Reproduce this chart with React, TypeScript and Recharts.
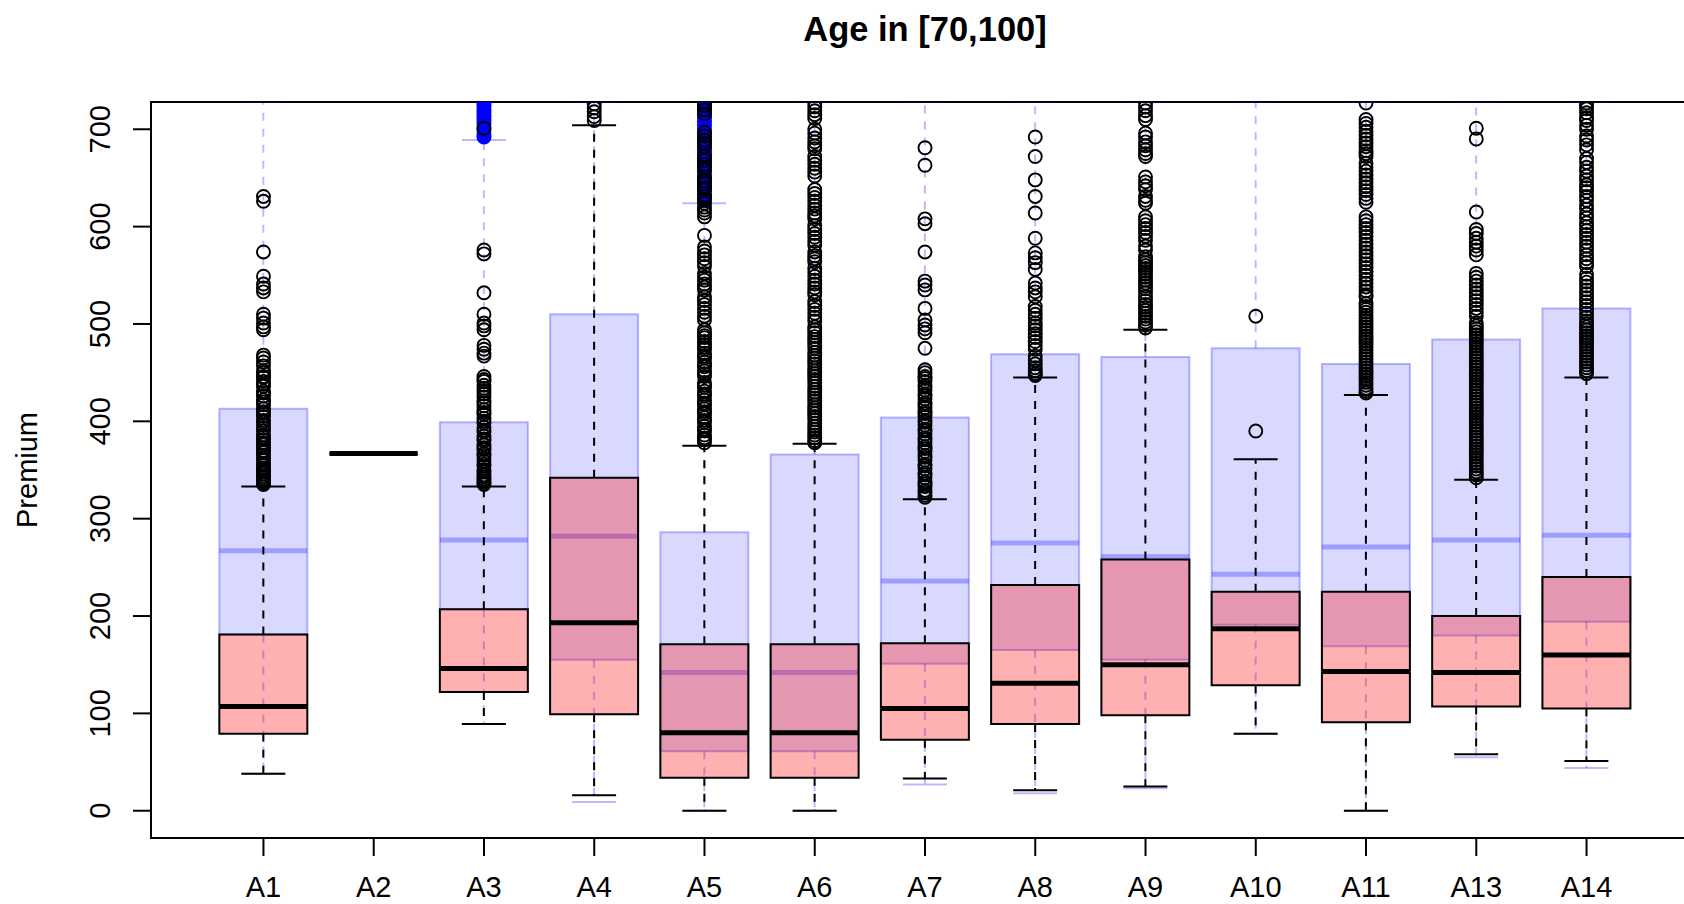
import { ComposedChart, Bar, Scatter, XAxis, YAxis, ReferenceArea } from 'recharts';

const FONT = '"Liberation Sans", Arial, Helvetica, sans-serif';

const categories = ['A1', 'A2', 'A3', 'A4', 'A5', 'A6', 'A7', 'A8', 'A9', 'A10', 'A11', 'A13', 'A14'];

// five-number summaries: [lower whisker, Q1, median, Q3, upper whisker]
const redStats = [
  [38, 79, 107, 181, 333],
  [367, 367, 367, 367, 367],
  [89, 122, 146, 207, 333],
  [16, 99, 193, 342, 704],
  [0, 34, 80, 171, 375],
  [0, 34, 80, 171, 377],
  [33, 73, 105, 172, 320],
  [21, 89, 131, 232, 445],
  [25, 98, 150, 258, 494],
  [79, 129, 187, 225, 361],
  [0, 91, 143, 225, 427],
  [58, 107, 142, 200, 340],
  [51, 105, 160, 240, 445],
];

const blueStats = [
  [38, 181, 267, 413, 745],
  null,
  [89, 207, 278, 399, 689],
  [9, 155, 282, 510, 745],
  [0, 61, 142, 286, 624],
  [0, 61, 142, 366, 745],
  [27, 151, 236, 404, 745],
  [18, 165, 275, 469, 745],
  [23, 155, 261, 466, 745],
  [79, 191, 243, 475, 745],
  [0, 169, 271, 459, 745],
  [55, 180, 278, 484, 745],
  [44, 194, 283, 516, 745],
];

const redOutliers = [
  [631, 626, 574, 549, 541, 537, 533, 510, 506, 501, 497, 494, 468, 465, 461, 457, 452, 450, 446, 445, 441, 438,
    436, 431, 429, 426, 422, 420, 417, 413, 410, 408, 405, 401, 399, 396, 393, 390, 386, 384, 381, 378, 376, 373,
    370, 368, 365, 362, 360, 357, 355, 352, 350, 348, 346, 344, 342, 340, 339, 337, 336, 335],
  [],
  [701, 576, 572, 532, 510, 501, 498, 494, 478, 474, 470, 467, 446, 443, 441, 437, 434, 431, 428, 425, 421, 419,
    416, 412, 409, 407, 403, 400, 398, 394, 391, 389, 385, 382, 380, 376, 373, 371, 367, 365, 362, 359, 356, 354,
    350, 348, 345, 343, 341, 339, 337, 335],
  [726, 722, 718, 713, 709],
  [727, 724, 720, 716, 697, 693, 689, 686, 682, 672, 668, 664, 661, 658, 651, 647, 644, 640, 638, 631, 628, 624,
    620, 617, 614, 610, 591, 579, 575, 571, 567, 563, 559, 552, 548, 545, 541, 538, 535, 528, 524, 520, 516, 512,
    508, 504, 494, 491, 488, 486, 482, 479, 476, 474, 470, 467, 465, 461, 458, 456, 452, 449, 446, 440, 437, 435,
    431, 428, 426, 422, 419, 417, 413, 410, 408, 404, 401, 399, 395, 392, 390, 386, 383, 381, 378],
  [727, 723, 719, 715, 711, 700, 696, 691, 687, 683, 680, 672, 668, 664, 660, 656, 652, 638, 634, 630, 626, 622,
    618, 614, 611, 608, 601, 597, 593, 589, 585, 581, 574, 570, 567, 564, 557, 553, 549, 545, 541, 537, 533, 530,
    523, 519, 515, 511, 507, 503, 497, 494, 491, 487, 484, 481, 478, 475, 471, 468, 465, 462, 459, 455, 452, 449,
    446, 443, 440, 436, 433, 430, 427, 424, 421, 417, 414, 411, 408, 405, 402, 398, 395, 392, 389, 386, 383, 380, 378],
  [681, 663, 608, 603, 574, 544, 540, 535, 516, 504, 499, 495, 491, 475, 453, 450, 446, 444, 441, 437, 435, 432,
    428, 426, 423, 419, 417, 414, 410, 408, 405, 401, 399, 396, 392, 390, 387, 383, 381, 378, 374, 372, 369, 365,
    363, 360, 356, 354, 351, 347, 345, 342, 338, 336, 333, 329, 327, 324, 322],
  [692, 672, 648, 631, 614, 588, 573, 568, 563, 556, 542, 537, 533, 528, 518, 514, 510, 506, 501, 498, 494, 490,
    486, 482, 478, 474, 467, 463, 459, 455, 452, 449, 447],
  [727, 723, 719, 714, 710, 696, 692, 687, 683, 679, 675, 672, 651, 646, 642, 638, 631, 627, 624, 610, 606, 602,
    598, 594, 590, 586, 580, 576, 569, 566, 563, 560, 557, 554, 551, 548, 545, 542, 539, 536, 532, 528, 524, 520,
    517, 514, 511, 508, 505, 502, 499, 496],
  [508, 390],
  [727, 710, 706, 702, 698, 694, 690, 686, 682, 678, 675, 672, 665, 661, 657, 653, 649, 645, 641, 637, 633, 629,
    625, 610, 606, 602, 598, 594, 590, 586, 582, 578, 574, 570, 566, 562, 558, 554, 550, 546, 542, 538, 534, 530,
    528, 521, 518, 515, 512, 509, 506, 503, 500, 497, 494, 491, 488, 485, 482, 479, 476, 473, 470, 467, 464, 461,
    458, 455, 452, 449, 446, 443, 440, 437, 434, 431, 429],
  [701, 690, 615, 597, 593, 588, 584, 580, 576, 571, 552, 548, 544, 540, 536, 532, 528, 524, 520, 516, 512, 508,
    501, 498, 495, 492, 489, 486, 483, 480, 477, 474, 471, 468, 465, 462, 459, 456, 453, 450, 447, 444, 441, 438,
    435, 432, 429, 426, 423, 420, 417, 414, 411, 408, 405, 402, 399, 396, 393, 390, 387, 384, 381, 378, 375, 372,
    369, 366, 363, 360, 357, 354, 351, 348, 345, 342],
  [727, 724, 721, 717, 712, 709, 704, 700, 693, 689, 684, 679, 670, 666, 661, 657, 652, 648, 643, 640, 636, 631,
    627, 622, 618, 613, 609, 604, 600, 596, 592, 588, 584, 580, 576, 571, 567, 563, 559, 551, 547, 543, 539, 535,
    531, 527, 523, 519, 515, 511, 507, 503, 500, 497, 494, 491, 488, 485, 482, 479, 476, 473, 470, 467, 464, 461,
    458, 455, 452, 449],
];

const blueOutliers = [
  [],
  [],
  [692, 695, 699, 702, 706, 709, 713, 717, 720, 724, 727, 731],
  [],
  [627, 630, 634, 638, 641, 645, 649, 652, 656, 660, 663, 667, 671, 675, 678, 682, 686, 689, 693, 697, 700, 704,
    708, 712, 715, 719, 723, 726, 730],
  [], [], [], [], [], [], [], [],
];

const yTicks = [0, 100, 200, 300, 400, 500, 600, 700];
const xLimits = [-0.02, 14.02];
const yLimits = [-28, 728];
const xTicks = categories.map((_, i) => i + 1);

// stacked segments: offset, lower whisker, lower box half, upper box half, upper whisker
const toSegments = (s: number[] | null) =>
  s
    ? [s[0], s[1] - s[0], s[2] - s[1], s[3] - s[2], s[4] - s[3]]
    : [0, 0, 0, 0, 0];

const rows = categories.map((name, i) => {
  const r = toSegments(redStats[i]);
  const b = toSegments(blueStats[i]);
  return {
    pos: i + 1,
    name,
    hasRed: true,
    hasBlue: blueStats[i] != null,
    r0: r[0], r1: r[1], r2: r[2], r3: r[3], r4: r[4],
    b0: b[0], b1: b[1], b2: b[2], b3: b[3], b4: b[4],
  };
});

const redPoints = categories.flatMap((_, i) => redOutliers[i].map((value) => ({ pos: i + 1, value })));
const bluePoints = categories.flatMap((_, i) => blueOutliers[i].map((value) => ({ pos: i + 1, value })));

type BoxStyle = {
  flag: 'hasRed' | 'hasBlue';
  fill: string;
  stroke: string;
  lineW: number;
  medW: number;
  whisker: string;
  whiskerW: number;
};

const RED: BoxStyle = {
  flag: 'hasRed',
  fill: 'rgba(255,0,0,0.31)',
  stroke: '#000',
  lineW: 2,
  medW: 5,
  whisker: '#000',
  whiskerW: 2,
};

const BLUE: BoxStyle = {
  flag: 'hasBlue',
  fill: 'rgba(0,0,255,0.15)',
  stroke: 'rgba(0,0,255,0.27)',
  lineW: 2,
  medW: 5,
  whisker: 'rgba(0,0,255,0.27)',
  whiskerW: 2,
};

const edges = (p: any) => {
  const top = Math.min(p.y, p.y + p.height);
  const bot = Math.max(p.y, p.y + p.height);
  return { top, bot, x0: p.x, x1: p.x + p.width, cx: p.x + p.width / 2 };
};

const hidden = () => <g />;

const whiskerShape = (st: BoxStyle, dir: 'down' | 'up') => (p: any) => {
  if (!p.payload || !p.payload[st.flag]) return <g />;
  const { top, bot, cx } = edges(p);
  const half = p.width / 4;
  const from = dir === 'down' ? top : bot;
  const to = dir === 'down' ? bot : top;
  return (
    <g>
      <line x1={cx} y1={from} x2={cx} y2={to} stroke={st.whisker} strokeWidth={st.whiskerW} strokeDasharray="8 8" />
      <line x1={cx - half} y1={to} x2={cx + half} y2={to} stroke={st.whisker} strokeWidth={st.whiskerW} />
    </g>
  );
};

const boxShape = (st: BoxStyle, part: 'lo' | 'hi') => (p: any) => {
  if (!p.payload || !p.payload[st.flag]) return <g />;
  const { top, bot, x0, x1 } = edges(p);
  const outline =
    part === 'lo'
      ? `M${x0},${top}V${bot}H${x1}V${top}`
      : `M${x0},${bot}V${top}H${x1}V${bot}`;
  return (
    <g>
      <rect x={x0} y={top} width={x1 - x0} height={bot - top} fill={st.fill} />
      <path d={outline} fill="none" stroke={st.stroke} strokeWidth={st.lineW} />
      {part === 'hi' && (
        <line x1={x0} y1={bot} x2={x1} y2={bot} stroke={st.stroke} strokeWidth={st.medW} />
      )}
    </g>
  );
};

const openCircle = (p: any) => (
  <circle cx={p.cx} cy={p.cy} r={6.5} fill="none" stroke="#000" strokeWidth={1.9} />
);

const blueDot = (p: any) => (
  <circle cx={p.cx} cy={p.cy} r={6.6} fill="#0000ff" stroke="#0000ff" strokeWidth={1.8} />
);

const XTick = (props: any) => {
  const { x, y, payload } = props;
  return (
    <text x={x} y={y} textAnchor="middle" fontSize={29} fontFamily={FONT} fill="#000">
      {categories[payload.value - 1]}
    </text>
  );
};

const YTick = (props: any) => {
  const { x, y, payload } = props;
  return (
    <text x={x} y={y} transform={`rotate(-90 ${x} ${y})`} textAnchor="middle" fontSize={29} fontFamily={FONT} fill="#000">
      {payload.value}
    </text>
  );
};

export default function App() {
  return (
    <div
      style={{
        position: 'fixed',
        left: 0,
        top: 0,
        width: 1684,
        height: 904,
        overflow: 'hidden',
        background: '#fff',
      }}
    >
      <ComposedChart
        width={1700}
        height={904}
        data={rows}
        margin={{ top: 102, right: 1, bottom: 0, left: 0 }}
        style={{ fontFamily: FONT }}
      >
        <XAxis
          xAxisId="x"
          type="number"
          dataKey="pos"
          domain={xLimits}
          allowDataOverflow
          ticks={xTicks}
          interval={0}
          height={66}
          tickSize={18}
          tickMargin={41}
          axisLine={false}
          stroke="#000"
          tickLine={{ stroke: '#000', strokeWidth: 2 }}
          tick={XTick}
        />
        <XAxis
          xAxisId="xb"
          type="number"
          dataKey="pos"
          domain={xLimits}
          allowDataOverflow
          ticks={xTicks}
          hide
        />
        <YAxis
          type="number"
          domain={yLimits}
          allowDataOverflow
          ticks={yTicks}
          interval={0}
          width={151}
          tickSize={18}
          tickMargin={22.5}
          axisLine={false}
          stroke="#000"
          tickLine={{ stroke: '#000', strokeWidth: 2 }}
          tick={YTick}
        />

        {/* blue boxplots underneath */}
        <Bar xAxisId="xb" dataKey="b0" stackId="blue" barSize={88} shape={hidden} isAnimationActive={false} />
        <Bar xAxisId="xb" dataKey="b1" stackId="blue" barSize={88} shape={whiskerShape(BLUE, 'down')} isAnimationActive={false} />
        <Bar xAxisId="xb" dataKey="b2" stackId="blue" barSize={88} shape={boxShape(BLUE, 'lo')} isAnimationActive={false} />
        <Bar xAxisId="xb" dataKey="b3" stackId="blue" barSize={88} shape={boxShape(BLUE, 'hi')} isAnimationActive={false} />
        <Bar xAxisId="xb" dataKey="b4" stackId="blue" barSize={88} shape={whiskerShape(BLUE, 'up')} isAnimationActive={false} />

        {/* red boxplots on top */}
        <Bar xAxisId="x" dataKey="r0" stackId="red" barSize={88} shape={hidden} isAnimationActive={false} />
        <Bar xAxisId="x" dataKey="r1" stackId="red" barSize={88} shape={whiskerShape(RED, 'down')} isAnimationActive={false} />
        <Bar xAxisId="x" dataKey="r2" stackId="red" barSize={88} shape={boxShape(RED, 'lo')} isAnimationActive={false} />
        <Bar xAxisId="x" dataKey="r3" stackId="red" barSize={88} shape={boxShape(RED, 'hi')} isAnimationActive={false} />
        <Bar xAxisId="x" dataKey="r4" stackId="red" barSize={88} shape={whiskerShape(RED, 'up')} isAnimationActive={false} />

        <Scatter xAxisId="x" data={bluePoints} dataKey="value" shape={blueDot} isAnimationActive={false} />
        <Scatter xAxisId="x" data={redPoints} dataKey="value" shape={openCircle} isAnimationActive={false} />

        <ReferenceArea
          xAxisId="x"
          x1={xLimits[0]}
          x2={xLimits[1]}
          y1={yLimits[0]}
          y2={yLimits[1]}
          fill="none"
          stroke="#000"
          strokeWidth={2}
          ifOverflow="visible"
        />
      </ComposedChart>

      <svg
        width={1684}
        height={904}
        style={{ position: 'absolute', left: 0, top: 0, pointerEvents: 'none' }}
      >
        <text x={925} y={41} textAnchor="middle" fontSize={34.5} fontWeight="bold" fontFamily={FONT} fill="#000">
          Age in [70,100]
        </text>
        <text x={37} y={470} transform="rotate(-90 37 470)" textAnchor="middle" fontSize={29} fontFamily={FONT} fill="#000">
          Premium
        </text>
      </svg>
    </div>
  );
}
